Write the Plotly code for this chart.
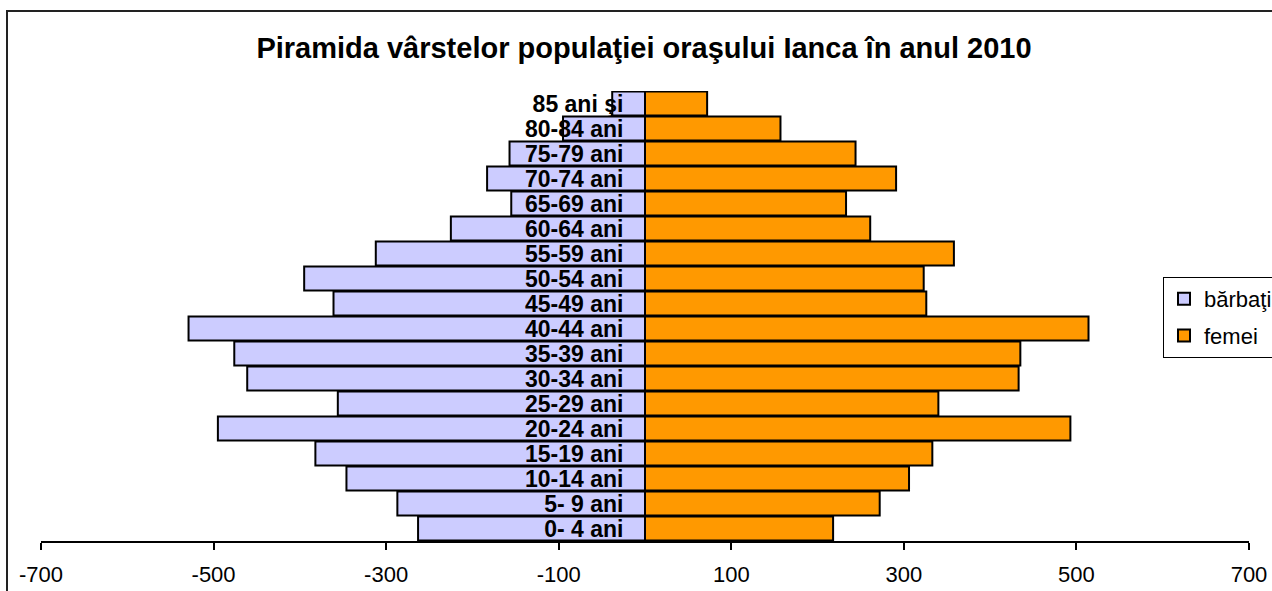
import plotly.graph_objects as go

categories = ["0- 4 ani", "5- 9 ani", "10-14 ani", "15-19 ani", "20-24 ani", "25-29 ani",
              "30-34 ani", "35-39 ani", "40-44 ani", "45-49 ani", "50-54 ani", "55-59 ani",
              "60-64 ani", "65-69 ani", "70-74 ani", "75-79 ani", "80-84 ani", "85 ani şi"]
barbati = [-263, -287, -346, -382, -495, -356, -461, -476, -529, -361, -395, -312,
           -225, -155, -183, -157, -95, -38]
femei = [218, 272, 306, 333, 493, 340, 433, 435, 514, 326, 323, 358,
         261, 233, 291, 244, 157, 72]
tick_vals = [-700, -500, -300, -100, 100, 300, 500, 700]
tick_text = ["-700", "-500", "-300", "-100", "100", "300", "500", "700"]

W, H = 1272, 591
L, T = 41, 91
R = W - 1249
B = H - 541
pw, ph = W - L - R, H - T - B

fig = go.Figure()
fig.add_trace(go.Bar(y=categories, x=barbati, orientation="h", name="bărbaţi",
                     marker=dict(color="#CCCCFF", line=dict(color="black", width=2)),
                     legendgroup="a"))
fig.add_trace(go.Bar(y=categories, x=femei, orientation="h", name="femei",
                     marker=dict(color="#FF9900", line=dict(color="black", width=2)),
                     legendgroup="b"))

fig.update_layout(
    width=W, height=H,
    margin=dict(l=L, r=R, t=T, b=B, autoexpand=False),
    paper_bgcolor="white", plot_bgcolor="white",
    barmode="overlay", bargap=0.04,
    font=dict(family="Liberation Sans, Arial, sans-serif", color="black"),
    title=dict(text="<b>Piramida vârstelor populaţiei oraşului Ianca în anul 2010</b>",
               x=644 / W, xanchor="center", xref="container",
               y=1 - 48 / H, yanchor="middle", yref="container",
               font=dict(size=29, color="black"), automargin=False),
    xaxis=dict(range=[-700, 700], tickvals=tick_vals, ticktext=tick_text,
               showgrid=False, zeroline=False, showline=True, linecolor="black",
               linewidth=1.5, ticks="outside", ticklen=7, tickwidth=1.5,
               tickcolor="black", tickfont=dict(size=22), ticklabelstandoff=6,
               fixedrange=True, automargin=False),
    yaxis=dict(type="category", categoryorder="array", categoryarray=categories,
               tickmode="array", tickvals=categories,
               ticktext=["<b>" + c + "</b>" for c in categories],
               range=[-0.5, 17.5], anchor="free", position=0.5,
               showline=True, linecolor="black", linewidth=2, showgrid=False,
               ticks="", ticklabelstandoff=16, automargin=False,
               tickfont=dict(size=23, family="Liberation Sans, Arial, sans-serif"),
               fixedrange=True),
    legend=dict(x=(1163 - L) / pw, y=(H - B - 277) / ph,
                xanchor="left", yanchor="top",
                bordercolor="black", borderwidth=1, bgcolor="white",
                font=dict(size=22), traceorder="grouped", tracegroupgap=5,
                itemwidth=30),
    showlegend=True,
    shapes=[dict(type="rect", xref="paper", yref="paper",
                 x0=(7 - L) / pw, x1=(W + 5 - L) / pw,
                 y0=-(B + 5) / ph, y1=1 + (T - 11) / ph,
                 line=dict(color="#222222", width=2), layer="below")],
)

fig.write_html("out.html", config={"displayModeBar": False},
               post_script="document.body.style.margin='0';document.body.style.overflow='hidden';")
